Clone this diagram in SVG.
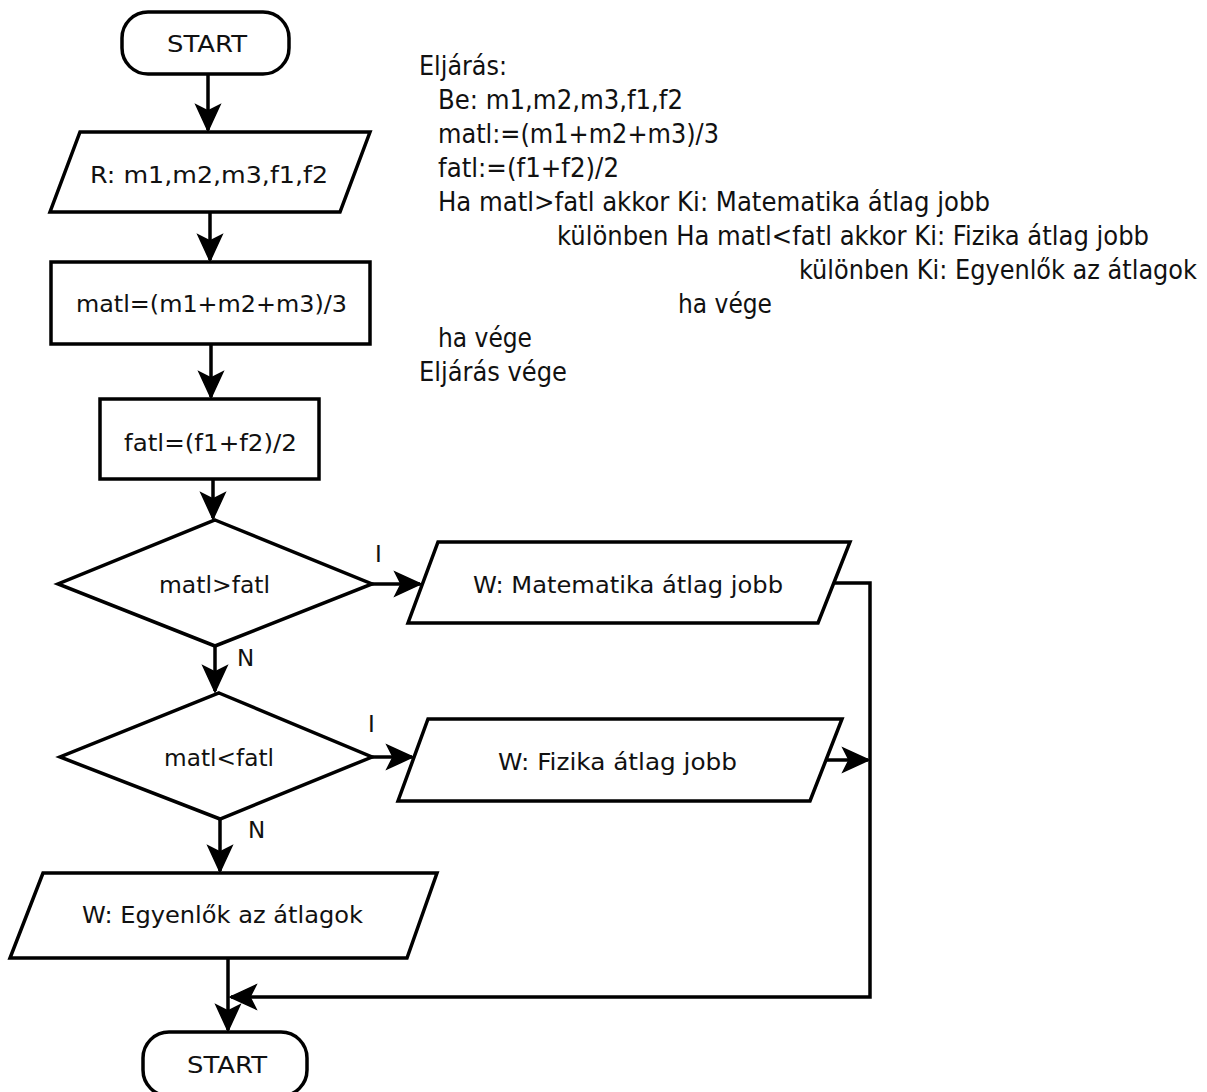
<svg xmlns="http://www.w3.org/2000/svg" width="1207" height="1092" viewBox="0 0 1207 1092">
<style>
.s{fill:#fff;stroke:#000;stroke-width:3.5;stroke-linejoin:miter}
.t{font-family:"DejaVu Sans",Verdana,sans-serif;font-size:23px;fill:#111}
.p{font-family:"DejaVu Sans Condensed","DejaVu Sans",sans-serif;font-size:26px;fill:#111}
.c{fill:none;stroke:#000;stroke-width:3.5}
</style>
<defs>
<marker id="ah" viewBox="-30 -15 32 30" markerWidth="32" markerHeight="30" refX="0" refY="0" orient="auto" markerUnits="userSpaceOnUse">
<path d="M1,0 L-25,-12 L-19,0 L-25,12 Z" fill="#000" stroke="#000" stroke-width="1.5" stroke-linejoin="miter"/>
</marker>
</defs>
<rect width="1207" height="1092" fill="#fff"/>
<g id="connectors">
<path class="c" d="M208,74 V130" marker-end="url(#ah)"/>
<path class="c" d="M210,212 V260" marker-end="url(#ah)"/>
<path class="c" d="M211,344 V397" marker-end="url(#ah)"/>
<path class="c" d="M213,479 V518" marker-end="url(#ah)"/>
<path class="c" d="M372,584 H420" marker-end="url(#ah)"/>
<path class="c" d="M215,646 V691" marker-end="url(#ah)"/>
<path class="c" d="M372,757 H412" marker-end="url(#ah)"/>
<path class="c" d="M220,819 V871" marker-end="url(#ah)"/>
<path class="c" d="M228,958 V1030" marker-end="url(#ah)"/>
<path class="c" d="M835,583 H870 V997 H231" marker-end="url(#ah)"/>
<path class="c" d="M826,760 H868" marker-end="url(#ah)"/>
<text class="t" x="375" y="562" font-size="21">I</text>
<text class="t" x="368" y="732" font-size="21">I</text>
<text class="t" x="237" y="666" font-size="21">N</text>
<text class="t" x="248" y="838" font-size="21">N</text>
</g>
<g id="start">
<rect class="s" x="122" y="12" width="167" height="62" rx="26" ry="26"/>
<text class="t" x="167" y="52" textLength="80" lengthAdjust="spacingAndGlyphs">START</text>
</g>
<g id="read">
<polygon class="s" points="80,132 370,132 340,212 50,212"/>
<text class="t" x="90" y="183" textLength="238" lengthAdjust="spacingAndGlyphs">R: m1,m2,m3,f1,f2</text>
</g>
<g id="matl">
<rect class="s" x="51" y="262" width="319" height="82"/>
<text class="t" x="76" y="312" textLength="271" lengthAdjust="spacingAndGlyphs">matl=(m1+m2+m3)/3</text>
</g>
<g id="fatl">
<rect class="s" x="100" y="399" width="219" height="80"/>
<text class="t" x="124" y="451" textLength="173" lengthAdjust="spacingAndGlyphs">fatl=(f1+f2)/2</text>
</g>
<g id="dec1">
<polygon class="s" points="215,520 372,584 215,646 58,584"/>
<text class="t" x="159" y="593" textLength="111" lengthAdjust="spacingAndGlyphs">matl&gt;fatl</text>
</g>
<g id="dec2">
<polygon class="s" points="219,693 372,757 220,819 60,757"/>
<text class="t" x="164" y="766" textLength="110" lengthAdjust="spacingAndGlyphs">matl&lt;fatl</text>
</g>
<g id="outMat">
<polygon class="s" points="438,542 850,542 818,623 408,623"/>
<text class="t" x="473" y="593" textLength="310" lengthAdjust="spacingAndGlyphs">W: Matematika átlag jobb</text>
</g>
<g id="outFiz">
<polygon class="s" points="428,719 842,719 810,801 398,801"/>
<text class="t" x="498" y="770" textLength="239" lengthAdjust="spacingAndGlyphs">W: Fizika átlag jobb</text>
</g>
<g id="outEq">
<polygon class="s" points="43,873 437,873 407,958 10,958"/>
<text class="t" x="82" y="923" textLength="281" lengthAdjust="spacingAndGlyphs">W: Egyenlők az átlagok</text>
</g>
<g id="end">
<rect class="s" x="143" y="1032" width="164" height="64" rx="26" ry="26"/>
<text class="t" x="187" y="1073" textLength="80" lengthAdjust="spacingAndGlyphs">START</text>
</g>
<g id="pseudocode">
<text class="p" x="419" y="75" textLength="88" lengthAdjust="spacingAndGlyphs">Eljárás:</text>
<text class="p" x="438" y="109" textLength="245" lengthAdjust="spacingAndGlyphs">Be: m1,m2,m3,f1,f2</text>
<text class="p" x="438" y="143" textLength="281" lengthAdjust="spacingAndGlyphs">matl:=(m1+m2+m3)/3</text>
<text class="p" x="438" y="177" textLength="181" lengthAdjust="spacingAndGlyphs">fatl:=(f1+f2)/2</text>
<text class="p" x="438" y="211" textLength="552" lengthAdjust="spacingAndGlyphs">Ha matl&gt;fatl akkor Ki: Matematika átlag jobb</text>
<text class="p" x="557" y="245" textLength="592" lengthAdjust="spacingAndGlyphs">különben Ha matl&lt;fatl akkor Ki: Fizika átlag jobb</text>
<text class="p" x="799" y="279" textLength="398" lengthAdjust="spacingAndGlyphs">különben Ki: Egyenlők az átlagok</text>
<text class="p" x="678" y="313" textLength="94" lengthAdjust="spacingAndGlyphs">ha vége</text>
<text class="p" x="438" y="347" textLength="94" lengthAdjust="spacingAndGlyphs">ha vége</text>
<text class="p" x="419" y="381" textLength="148" lengthAdjust="spacingAndGlyphs">Eljárás vége</text>
</g>
</svg>
